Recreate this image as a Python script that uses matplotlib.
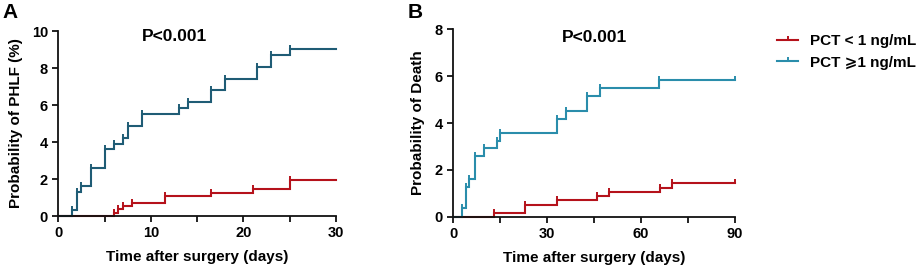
import matplotlib
matplotlib.use("Agg")
import matplotlib.pyplot as plt
from matplotlib.lines import Line2D

plt.rcParams['font.family'] = ['Liberation Sans', 'DejaVu Sans']
plt.rcParams['font.weight'] = 'bold'

# ---- data ----
a_hi_t = [0, 1.45, 2.0, 2.45, 3.5, 5.0, 6.0, 7.0, 7.5, 9.0, 13.0, 14.0, 16.5, 18.0, 21.5, 23.0, 25.0, 30]
a_hi_p = [0, 0.33, 1.30, 1.63, 2.60, 3.60, 3.91, 4.20, 4.86, 5.49, 5.83, 6.16, 6.81, 7.43, 8.07, 8.71, 9.02, 9.02]
a_lo_t = [0, 6.0, 6.45, 7.0, 8.0, 11.5, 16.5, 21.0, 25.0, 30]
a_lo_p = [0, 0.18, 0.36, 0.54, 0.72, 1.09, 1.27, 1.45, 1.96, 1.96]

b_hi_t = [0, 2.9, 4.1, 5.0, 6.9, 9.9, 13.9, 14.9, 33.0, 36.0, 42.8, 46.9, 65.8, 90]
b_hi_p = [0, 0.36, 1.28, 1.61, 2.59, 2.92, 3.25, 3.56, 4.18, 4.52, 5.16, 5.49, 5.84, 5.84]
b_lo_t = [0, 13.1, 22.9, 33.0, 46.0, 49.8, 66.0, 69.8, 90]
b_lo_p = [0, 0.17, 0.5, 0.7, 0.88, 1.07, 1.24, 1.45, 1.45]

a_xticks = [0, 10, 20, 30]
a_xminor = [5, 15, 25]
a_yticks = [0, 2, 4, 6, 8, 10]
b_xticks = [0, 30, 60, 90]
b_xminor = [15, 45, 75]
b_yticks = [0, 2, 4, 6, 8]

labels = ['PCT < 1 ng/mL', 'PCT \u2a7e1 ng/mL']

RED = '#b5121b'
TEAL_A = '#1f5c75'
TEAL_B = '#2a8dab'

fig = plt.figure(figsize=(9.2, 2.68), dpi=100)
axA = fig.add_axes([0.0634, 0.194, 0.3016, 0.69])
axB = fig.add_axes([0.4927, 0.191, 0.3063, 0.70])


def km(ax, t, p, color, end_tick=False):
    ax.step(t, p, where='post', color=color, lw=1.5, clip_on=False, solid_joinstyle='miter')
    mt = t[1:-1] + ([t[-1]] if end_tick else [])
    mp = p[1:-1] + ([p[-1]] if end_tick else [])
    ax.plot(mt, mp, ls='none', marker=2, ms=3.2, mew=1.4, color=color, clip_on=False)


def style(ax, xmax, ymax, xt, xm, yt):
    ax.set_xlim(0, xmax)
    ax.set_ylim(0, ymax)
    ax.set_xticks(xt)
    ax.set_xticks(xm, minor=True)
    ax.set_yticks(yt)
    for s in ['top', 'right']:
        ax.spines[s].set_visible(False)
    for s in ['left', 'bottom']:
        ax.spines[s].set_linewidth(1.3)
        ax.spines[s].set_color('#111111')
    ax.tick_params(which='both', direction='out', length=4.5, width=1.3, color='#111111')
    ax.tick_params(which='major', labelsize=10.5, pad=3)
    for lab in ax.get_xticklabels() + ax.get_yticklabels():
        lab.set_fontweight('bold')


km(axA, a_lo_t, a_lo_p, RED)
km(axA, a_hi_t, a_hi_p, TEAL_A)
style(axA, 30, 10, a_xticks, a_xminor, a_yticks)
axA.set_xlabel('Time after surgery (days)', fontsize=11, fontweight='bold', labelpad=7)
axA.set_ylabel('Probability of PHLF (%)', fontsize=11, fontweight='bold', labelpad=6)
axA.text(0.42, 0.97, 'P<0.001', transform=axA.transAxes, ha='center', va='center',
         fontsize=12.5, fontweight='bold')

km(axB, b_lo_t, b_lo_p, RED, end_tick=True)
km(axB, b_hi_t, b_hi_p, TEAL_B, end_tick=True)
style(axB, 90, 8, b_xticks, b_xminor, b_yticks)
axB.set_xlabel('Time after surgery (days)', fontsize=11, fontweight='bold', labelpad=7)
axB.set_ylabel('Probability of Death', fontsize=11, fontweight='bold', labelpad=7)
axB.text(0.5, 0.955, 'P<0.001', transform=axB.transAxes, ha='center', va='center',
         fontsize=12.5, fontweight='bold')

fig.text(0.003, 0.955, 'A', fontsize=15, fontweight='bold', va='center', ha='left')
fig.text(0.443, 0.955, 'B', fontsize=15, fontweight='bold', va='center', ha='left')

handles = [Line2D([], [], color=RED, lw=1.5, marker=2, ms=3.2, mew=1.4),
           Line2D([], [], color=TEAL_B, lw=1.5, marker=2, ms=3.2, mew=1.4)]
leg = fig.legend(handles, labels, loc='upper left', bbox_to_anchor=(0.8446, 0.873),
                 frameon=False, fontsize=11, handlelength=1.4, handletextpad=0.75,
                 labelspacing=0.5, borderaxespad=0, borderpad=0, numpoints=1)
for t in leg.get_texts():
    t.set_fontweight('bold')

fig.savefig('out.png', dpi=100)
